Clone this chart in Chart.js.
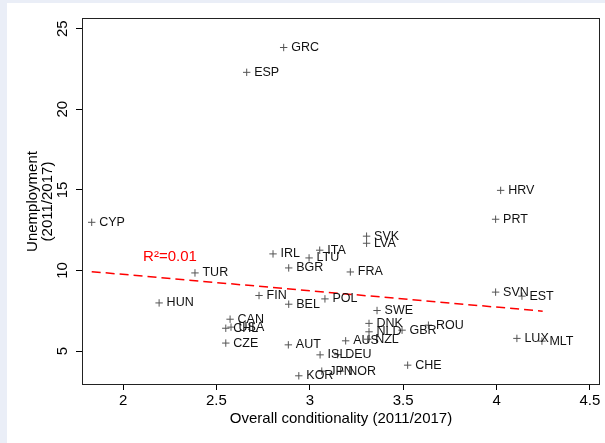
<!DOCTYPE html>
<html>
<head>
<meta charset="utf-8">
<script src="https://cdn.jsdelivr.net/npm/chart.js@4"></script>
<style>
  html, body { margin: 0; padding: 0; background: #eaeef7; }
  #wrap { position: absolute; left: 7px; top: 3px; width: 598px; height: 440px; background: #fff; }
</style>
</head>
<body>
<div id="wrap"><canvas id="myChart" width="598" height="440"></canvas></div>
<script>
/************** Unemployment vs conditionality ******/
var countries = ["GRC", "ESP", "HRV", "PRT", "CYP", "SVK", "LVA", "ITA", "IRL", "LTU",
  "BGR", "FRA", "TUR", "FIN", "POL", "BEL", "HUN", "SVN", "EST", "SWE",
  "DNK", "NLD", "NZL", "AUS", "GBR", "ROU", "CAN", "CHL", "USA", "CZE",
  "AUT", "ISL", "DEU", "CHE", "LUX", "MLT", "KOR", "JPN", "NOR"];
var conditionality = [2.86, 2.662, 4.022, 3.995, 1.832, 3.304, 3.304, 3.053, 2.803, 2.996,
  2.887, 3.217, 2.385, 2.728, 3.081, 2.887, 2.193, 3.995, 4.136, 3.36,
  3.317, 3.317, 3.31, 3.192, 3.494, 3.635, 2.573, 2.55, 2.578, 2.55,
  2.885, 3.055, 3.149, 3.524, 4.109, 4.243, 2.941, 3.064, 3.165];
var unemployment = [23.83, 22.29, 14.97, 13.18, 12.99, 12.13, 11.69, 11.26, 11.03, 10.78,
  10.16, 9.91, 9.85, 8.45, 8.24, 7.91, 7.99, 8.66, 8.41, 7.52,
  6.72, 6.20, 5.74, 5.64, 6.30, 6.61, 6.98, 6.42, 6.49, 5.50,
  5.39, 4.77, 4.78, 4.13, 5.79, 5.62, 3.47, 3.76, 3.76];

// fitted line (ends)
var fitX = [1.832, 4.247];
var fitY = [9.93, 7.48];
var r2Text = "R\u00b2=0.01";
var r2At = [2.107, 10.85];

var xTicks = [2, 2.5, 3, 3.5, 4, 4.5];
var yTicks = [5, 10, 15, 20, 25];

var fontFam = "'Liberation Sans', Arial, Helvetica, sans-serif";

var pointData = conditionality.map(function (x, i) { return {x: x, y: unemployment[i]}; });
var fitData = fitX.map(function (x, i) { return {x: x, y: fitY[i]}; });

// country labels, frame and R2 text
var labelPlugin = {
  id: "labels",
  afterDatasetsDraw: function (chart) {
    var ctx = chart.ctx;
    var meta = chart.getDatasetMeta(0);
    ctx.save();
    ctx.font = "12.5px " + fontFam;
    ctx.fillStyle = "#111";
    ctx.textAlign = "left";
    ctx.textBaseline = "middle";
    meta.data.forEach(function (pt, i) {
      ctx.fillText(countries[i], pt.x + 7.5, pt.y);
    });
    var xs = chart.scales.x, ys = chart.scales.y;
    ctx.font = "15px " + fontFam;
    ctx.fillStyle = "#ff0000";
    ctx.fillText(r2Text, xs.getPixelForValue(r2At[0]), ys.getPixelForValue(r2At[1]));
    var a = chart.chartArea;
    ctx.strokeStyle = "#222";
    ctx.lineWidth = 1;
    ctx.strokeRect(Math.round(a.left) + 0.5, Math.round(a.top) + 0.5,
      Math.round(a.right - a.left) - 1, Math.round(a.bottom - a.top) - 1);
    ctx.restore();
  }
};

new Chart("myChart", {
  type: "scatter",
  data: {
    datasets: [{
      data: pointData,
      pointStyle: "cross",
      pointRadius: 3.7,
      pointBorderColor: "#555",
      pointBorderWidth: 1,
      pointBackgroundColor: "#555"
    }, {
      data: fitData,
      showLine: true,
      borderColor: "#ff0000",
      borderWidth: 1.5,
      borderDash: [9, 5],
      pointRadius: 0,
      fill: false
    }]
  },
  options: {
    responsive: false,
    animation: false,
    layout: {padding: {left: 0, top: 15, right: 5, bottom: 0}},
    plugins: {legend: {display: false}, tooltip: {enabled: false}},
    scales: {
      x: {
        type: "linear",
        min: 1.78,
        max: 4.554,
        afterBuildTicks: function (s) { s.ticks = xTicks.map(function (v) { return {value: v}; }); },
        afterFit: function (s) { s.height = 58; },
        grid: {drawOnChartArea: false, tickLength: 5, color: "#000"},
        border: {display: false},
        ticks: {autoSkip: false, maxRotation: 0, padding: 2, color: "#000",
          font: {size: 15, family: fontFam},
          callback: function (v) { return String(v); }},
        title: {display: true, text: "Overall conditionality (2011/2017)", color: "#000",
          font: {size: 15, family: fontFam}, padding: {top: 0, bottom: 15}}
      },
      y: {
        min: 2.9,
        max: 25.66,
        afterBuildTicks: function (s) { s.ticks = yTicks.map(function (v) { return {value: v}; }); },
        afterFit: function (s) { s.width = 75; },
        grid: {drawOnChartArea: false, tickLength: 6, color: "#000"},
        border: {display: false},
        ticks: {autoSkip: false, minRotation: 90, maxRotation: 90, crossAlign: "center",
          padding: 5, color: "#000", font: {size: 15, family: fontFam}},
        title: {display: true, text: ["Unemployment", "(2011/2017)"], color: "#000",
          font: {size: 15, family: fontFam, lineHeight: 0.95}, padding: {top: 19, bottom: 0}}
      }
    }
  },
  plugins: [labelPlugin]
});
</script>
</body>
</html>
